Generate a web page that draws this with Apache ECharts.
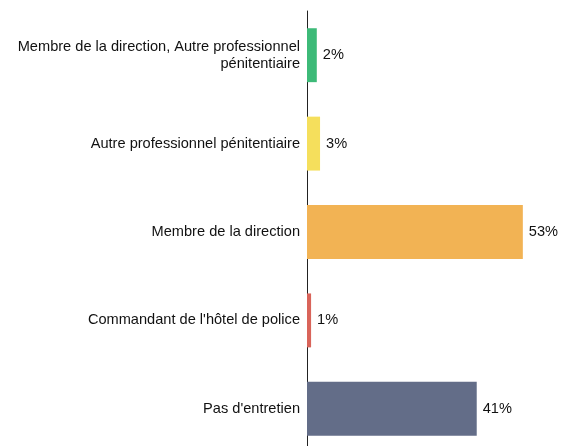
<!DOCTYPE html>
<html>
<head>
<meta charset="utf-8">
<script src="https://cdn.jsdelivr.net/npm/echarts@6/dist/echarts.min.js"></script>
<style>
  html, body { margin: 0; padding: 0; background: #fff; }
  #main { width: 570px; height: 446px; }
</style>
</head>
<body>
<div id="main"></div>
<script>
// categories, top to bottom
var categories = [
    "Membre de la direction, Autre professionnel\npénitentiaire",
    "Autre professionnel pénitentiaire",
    "Membre de la direction",
    "Commandant de l'hôtel de police",
    "Pas d'entretien"
];
var values = [2.4, 3.2, 52.9, 1.0, 41.6];
var labels = ["2%", "3%", "53%", "1%", "41%"];
var colors = ["#3dba78", "#f5df5c", "#f2b354", "#d9645a", "#636d88"];

var myChart = echarts.init(document.getElementById('main'));

var option = {
    animation: false,
    grid: {
        left: 307,
        top: 11,
        width: 408,
        height: 442,
        outerBoundsMode: 'none'
    },
    xAxis: {
        type: 'value',
        min: 0,
        max: 100,
        show: false
    },
    yAxis: {
        type: 'category',
        inverse: true,
        data: categories,
        axisLine: { show: true, lineStyle: { color: '#222', width: 1 } },
        axisTick: { show: false },
        axisLabel: {
            margin: 7,
            color: '#111',
            fontSize: 14.6,
            lineHeight: 17,
            fontFamily: "'Liberation Sans', Arial, sans-serif"
        }
    },
    series: [{
        type: 'bar',
        barCategoryGap: '39%',
        data: values.map(function (v, i) {
            return { value: v, itemStyle: { color: colors[i] } };
        }),
        label: {
            show: true,
            position: 'right',
            distance: 6,
            color: '#111',
            fontSize: 14.6,
            fontFamily: "'Liberation Sans', Arial, sans-serif",
            formatter: function (p) { return labels[p.dataIndex]; }
        }
    }]
};

myChart.setOption(option);
</script>
</body>
</html>
